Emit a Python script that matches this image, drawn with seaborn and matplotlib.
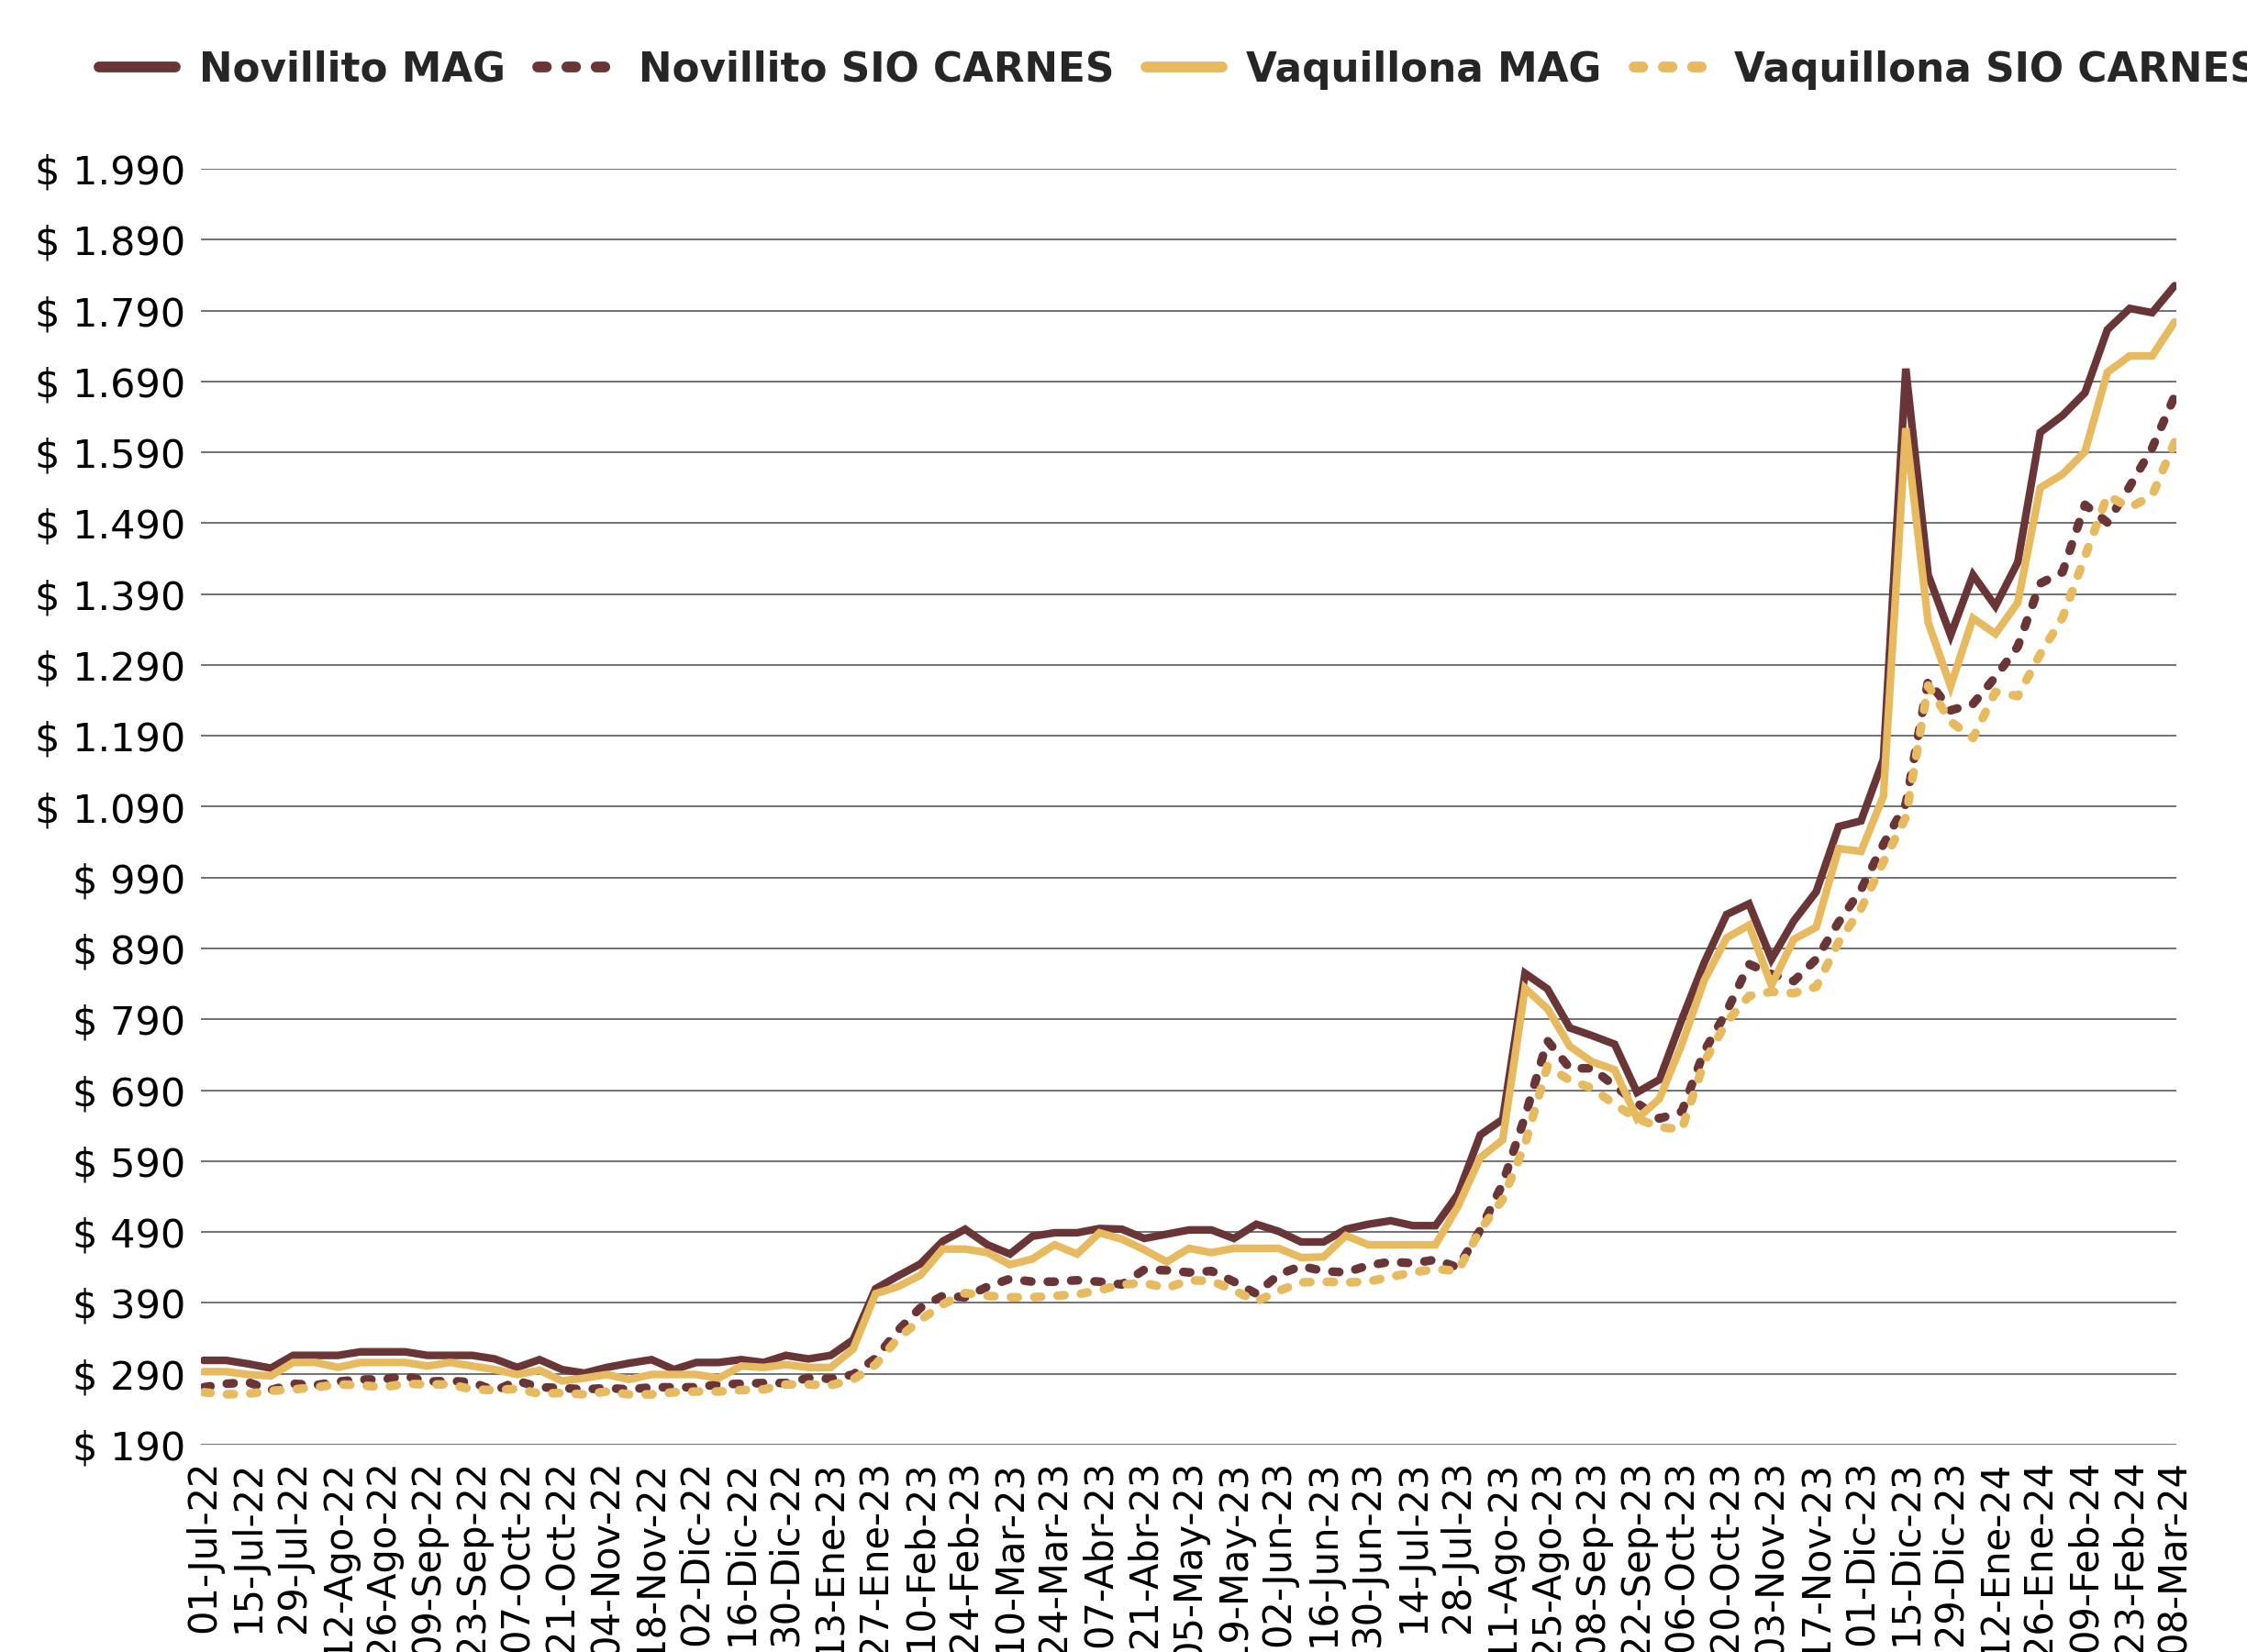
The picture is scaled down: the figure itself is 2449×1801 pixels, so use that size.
import matplotlib
matplotlib.use("Agg")
import matplotlib.pyplot as plt
import seaborn as sns
import pandas as pd

# ---------------- data ----------------
tick_labels = [
    "01-Jul-22", "15-Jul-22", "29-Jul-22", "12-Ago-22", "26-Ago-22", "09-Sep-22",
    "23-Sep-22", "07-Oct-22", "21-Oct-22", "04-Nov-22", "18-Nov-22", "02-Dic-22",
    "16-Dic-22", "30-Dic-22", "13-Ene-23", "27-Ene-23", "10-Feb-23", "24-Feb-23",
    "10-Mar-23", "24-Mar-23", "07-Abr-23", "21-Abr-23", "05-May-23", "19-May-23",
    "02-Jun-23", "16-Jun-23", "30-Jun-23", "14-Jul-23", "28-Jul-23", "11-Ago-23",
    "25-Ago-23", "08-Sep-23", "22-Sep-23", "06-Oct-23", "20-Oct-23", "03-Nov-23",
    "17-Nov-23", "01-Dic-23", "15-Dic-23", "29-Dic-23", "12-Ene-24", "26-Ene-24",
    "09-Feb-24", "23-Feb-24", "08-Mar-24",
]

novillito_mag = [
    309, 309, 304, 298, 316, 316, 316, 321, 321, 321, 316, 316, 316, 311, 299, 310,
    296, 291, 299, 305, 310, 296, 306, 306, 310, 306, 316, 311, 316, 338, 410, 428,
    445, 477, 494, 472, 459, 484, 489, 489, 495, 494, 481, 487, 493, 493, 481, 501,
    491, 476, 476, 494, 501, 506, 499, 499, 543, 627, 649, 855, 833, 778, 767, 755,
    687, 705, 790, 870, 938, 953, 875, 929, 970, 1062, 1070, 1157, 1708, 1417, 1332,
    1417, 1373, 1435, 1618, 1642, 1674, 1763, 1793, 1787, 1825,
]
novillito_sio = [
    271, 276, 278, 267, 276, 274, 279, 282, 282, 287, 279, 280, 278, 266, 280, 271,
    270, 268, 270, 268, 271, 271, 271, 275, 276, 277, 277, 284, 283, 289, 312, 351,
    383, 400, 398, 413, 424, 420, 420, 422, 420, 416, 437, 436, 433, 435, 420, 403,
    430, 442, 435, 433, 443, 448, 446, 451, 440, 493, 558, 653, 760, 721, 721, 696,
    672, 650, 660, 745, 801, 868, 854, 844, 875, 927, 973, 1037, 1094, 1268, 1226,
    1235, 1273, 1316, 1405, 1421, 1516, 1491, 1542, 1596, 1669,
]
vaquillona_mag = [
    293, 293, 289, 287, 306, 306, 299, 306, 306, 306, 301, 306, 301, 296, 289, 295,
    280, 284, 289, 282, 289, 289, 289, 284, 301, 299, 303, 299, 299, 325, 403, 413,
    429, 466, 466, 461, 444, 452, 472, 459, 489, 480, 465, 448, 467, 461, 467, 467,
    467, 454, 455, 485, 472, 472, 472, 472, 526, 595, 620, 834, 805, 752, 730, 719,
    650, 678, 755, 845, 905, 923, 838, 903, 920, 1031, 1027, 1105, 1624, 1350, 1260,
    1356, 1334, 1378, 1540, 1559, 1591, 1703, 1726, 1726, 1774,
]
vaquillona_sio = [
    264, 261, 262, 266, 268, 271, 275, 274, 271, 276, 275, 275, 268, 267, 269, 262,
    263, 261, 265, 261, 261, 264, 265, 265, 267, 268, 275, 275, 274, 282, 303, 340,
    366, 388, 404, 400, 398, 398, 400, 402, 408, 416, 418, 411, 422, 421, 408, 392,
    407, 419, 420, 419, 420, 427, 433, 438, 435, 493, 536, 614, 724, 704, 693, 670,
    650, 638, 635, 730, 786, 823, 829, 827, 836, 899, 946, 1012, 1075, 1261, 1210,
    1187, 1252, 1246, 1305, 1357, 1443, 1529, 1512, 1529, 1604,
]

series_names = ["Novillito MAG", "Novillito SIO CARNES", "Vaquillona MAG", "Vaquillona SIO CARNES"]
y_ticks = list(range(190, 1991, 100))

# ---------------- style ----------------
sns.set_theme(style="white")
plt.rcParams["font.family"] = ["DejaVu Sans"]

DARK = "#6A3536"
GOLD = "#E8BA60"
LW = 6.0
LW_DOT = 6.8
DOT = (0, (0.8, 1.9))

fig = plt.figure(figsize=(24.49, 18.01), dpi=100)
ax = fig.add_axes([219 / 2449, 1 - 1575 / 1801, (2372 - 219) / 2449, (1575 - 184) / 1801])

weeks = list(range(len(novillito_mag)))
df = pd.DataFrame({
    "semana": weeks,
    series_names[0]: novillito_mag,
    series_names[1]: novillito_sio,
    series_names[2]: vaquillona_mag,
    series_names[3]: vaquillona_sio,
})

styles = [
    (series_names[0], DARK, "-", LW),
    (series_names[1], DARK, DOT, LW_DOT),
    (series_names[2], GOLD, "-", LW),
    (series_names[3], GOLD, DOT, LW_DOT),
]
for name, col, ls, lw in styles:
    sns.lineplot(data=df, x="semana", y=name, ax=ax, color=col, linewidth=lw,
                 linestyle=ls, label=name, solid_capstyle="round",
                 dash_capstyle="round", solid_joinstyle="miter")

ax.set_ylim(190, 1990)
ax.set_xlim(-0.12, len(weeks) - 1 + 0.08)
ax.set_yticks(y_ticks)
ax.set_yticklabels(["$ " + f"{v:,}".replace(",", ".") for v in y_ticks])
ax.set_xticks(weeks[::2])
ax.set_xticklabels(tick_labels, rotation=90, va="top", ha="center")
ax.set_xlabel("")
ax.set_ylabel("")

ax.grid(axis="y", color="#666666", linewidth=1.3)
ax.grid(axis="x", visible=False)
for s in ax.spines.values():
    s.set_visible(False)
ax.tick_params(axis="y", length=0, pad=12, labelsize=31, labelcolor="black")
ax.tick_params(axis="x", length=0, pad=12, labelsize=30, labelcolor="black")

leg = ax.legend(loc="center left", bbox_to_anchor=(0.044, 1 - 76 / 1801),
                bbox_transform=fig.transFigure, ncol=4, frameon=False,
                prop={"size": 31.5, "weight": "bold"}, handlelength=1.9,
                handletextpad=0.6, columnspacing=0.8, borderpad=0, borderaxespad=0)
for line in leg.get_lines():
    line.set_linewidth(8.5)

fig.savefig("out.png", dpi=100)
